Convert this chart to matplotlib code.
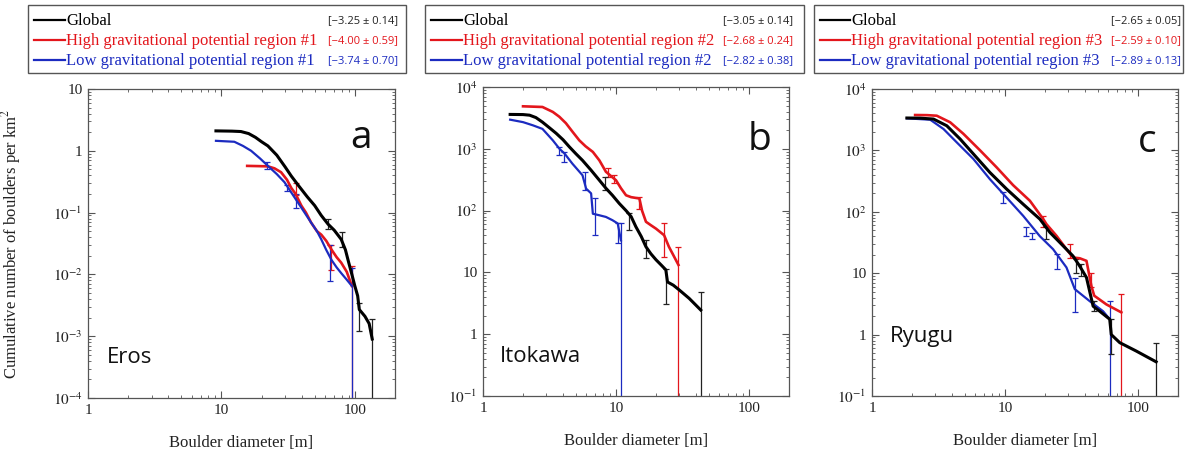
import matplotlib
matplotlib.use('Agg')
import matplotlib.pyplot as plt
import numpy as np
from matplotlib.lines import Line2D
from matplotlib.patches import Rectangle
from matplotlib.ticker import NullFormatter

plt.rcParams['mathtext.fontset'] = 'stix'
plt.rcParams['font.family'] = 'Liberation Serif'

BLACK = '#000000'
RED = '#e3161c'
BLUE = '#1c2bc0'

# ---- panel a : Eros ----
a_glob_x = [9.1, 12, 14, 16, 18, 20, 22.3, 26, 30, 33.4, 38, 44, 50, 56, 63, 70, 79, 85, 89, 95, 100, 105, 108, 119, 128, 135]
a_glob_y = [2.1, 2.08, 2.05, 1.9, 1.65, 1.4, 1.2, 0.85, 0.55, 0.39, 0.27, 0.18, 0.13, 0.09, 0.065, 0.052, 0.037, 0.025,
            0.017, 0.01, 0.0065, 0.0045, 0.0027, 0.0021, 0.0016, 0.0009]
a_high_x = [15.6, 19, 22.3, 25, 28, 31, 33.4, 36, 39.7, 43, 47, 52, 56, 61, 67, 73, 79, 87, 95]
a_high_y = [0.57, 0.565, 0.56, 0.52, 0.45, 0.34, 0.25, 0.2, 0.13, 0.1, 0.069, 0.05, 0.044, 0.035, 0.025, 0.019, 0.0155,
            0.011, 0.0065]
a_low_x = [9.1, 11, 12.5, 14.5, 16.7, 19.5, 22.3, 26, 29.7, 33, 37.5, 42, 47, 52, 56, 61, 67, 73, 79, 87, 95]
a_low_y = [1.45, 1.42, 1.4, 1.2, 1.0, 0.75, 0.57, 0.42, 0.31, 0.22, 0.145, 0.1, 0.069, 0.05, 0.037, 0.025, 0.017, 0.013,
           0.0105, 0.0082, 0.0065]
a_glob_ex = [63, 80, 108, 135]
a_glob_elo = [0.055, 0.028, 0.0012, 1e-5]
a_glob_ehi = [0.08, 0.048, 0.0035, 0.0019]
a_high_ex = [36, 66, 95]
a_high_elo = [0.19, 0.012, 1e-5]
a_high_ehi = [0.3, 0.03, 0.0135]
a_low_ex = [22, 31, 36, 65, 95]
a_low_elo = [0.5, 0.22, 0.12, 0.0078, 1e-5]
a_low_ehi = [0.65, 0.28, 0.2, 0.03, 0.0125]

# ---- panel b : Itokawa ----
b_glob_x = [1.6, 2.0, 2.24, 2.5, 2.8, 3.15, 3.55, 4.0, 4.47, 5.0, 5.6, 6.5, 7.5, 8.4, 9.4, 10.6, 11.9, 13, 14.1, 15.5,
            16.8, 18.3, 20, 22, 23.7, 24.4, 27, 29.9, 35.5, 43.4]
b_glob_y = [3600, 3580, 3500, 3200, 2700, 2200, 1780, 1400, 1070, 830, 650, 450, 310, 230, 177, 130, 100, 80, 55, 38,
            26, 20, 16, 13, 11, 7, 6.2, 5.2, 3.8, 2.46]
b_high_x = [2.0, 2.8, 3.35, 3.75, 4.2, 4.7, 5.3, 5.9, 6.7, 7.5, 8.4, 9.2, 10, 10.9, 11.9, 13, 14.2, 15, 15.7, 16.8,
            18.3, 20, 23, 25, 27, 29.5]
b_high_y = [4870, 4750, 3950, 3300, 2600, 1900, 1370, 1100, 890, 650, 425, 360, 310, 230, 177, 165, 160, 157, 100, 66,
            58, 51, 40, 26, 19, 13.2]
b_low_x = [1.6, 2.0, 2.37, 2.8, 3.35, 3.76, 4.1, 4.7, 5.6, 5.96, 6.5, 6.7, 7.5, 8.4, 9.4, 10.3, 10.9]
b_low_y = [2960, 2700, 2400, 2100, 1370, 1000, 840, 575, 373, 227, 190, 89, 84, 79, 70, 62, 33]
b_glob_ex = [8.2, 12.6, 16.8, 23.7, 43.4]
b_glob_elo = [214, 48, 16.8, 3.1, 0.01]
b_glob_ehi = [350, 90, 33, 11.5, 4.9]
b_high_ex = [8.7, 9.7, 15, 23, 29.5]
b_high_elo = [350, 275, 108, 17.8, 0.01]
b_high_ehi = [480, 373, 166, 62, 26]
b_low_ex = [3.76, 4.1, 5.8, 6.9, 10.3, 10.9]
b_low_elo = [790, 615, 214, 40, 29.5, 0.01]
b_low_ehi = [1070, 890, 427, 157, 63, 63]

# ---- panel c : Ryugu ----
c_glob_x = [1.83, 2.3, 2.9, 3.65, 4.6, 6.1, 7.7, 10.3, 13.7, 18.3, 21.8, 25.9, 32.5, 36.5, 41, 46, 51.6, 61.3, 63,
            72.9, 97, 137]
c_glob_y = [3370, 3350, 3240, 2520, 1530, 770, 437, 234, 133, 76, 46, 31.5, 19, 13, 8.5, 2.9, 2.4, 1.78, 1.0, 0.74,
            0.54, 0.36]
c_high_x = [2.11, 2.6, 3.07, 3.87, 4.87, 6.5, 8.65, 11.5, 15.4, 19.4, 20.5, 24.4, 29, 32.5, 36.5, 41, 44.7, 46.9, 57.9,
            75]
c_high_y = [3770, 3750, 3670, 2870, 1860, 1000, 530, 272, 151, 76, 63, 40.6, 24.6, 18, 17.5, 15.9, 6.1, 4.3, 3.1, 2.3]
c_low_x = [1.83, 2.2, 2.74, 3.45, 4.34, 5.79, 7.7, 10.3, 13.7, 18.3, 23, 29, 33.5, 43.4, 54.7, 61.3]
c_low_y = [3320, 3250, 3160, 2230, 1350, 724, 340, 170, 86, 40, 24.6, 12.4, 5.5, 3.5, 2.4, 1.78]
c_glob_ex = [20.5, 34.4, 37.5, 46.9, 63, 137]
c_glob_elo = [35.5, 10.2, 9, 2.4, 0.48, 0.01]
c_glob_ehi = [56, 17, 14, 3.5, 1.78, 0.74]
c_high_ex = [19.4, 31, 44.7, 75]
c_high_elo = [56, 18, 5.9, 0.01]
c_high_ehi = [86, 29.5, 10.2, 4.6]
c_low_ex = [9.7, 14.5, 15.9, 24.5, 33.9, 61.3]
c_low_elo = [141, 40, 35.5, 11.6, 2.3, 0.01]
c_low_ehi = [207, 56, 46, 20.4, 8.5, 3.5]

slopes_a = ['[\u22123.25 \u00b1 0.14]', '[\u22124.00 \u00b1 0.59]', '[\u22123.74 \u00b1 0.70]']
slopes_b = ['[\u22123.05 \u00b1 0.14]', '[\u22122.68 \u00b1 0.24]', '[\u22122.82 \u00b1 0.38]']
slopes_c = ['[\u22122.65 \u00b1 0.05]', '[\u22122.59 \u00b1 0.10]', '[\u22122.89 \u00b1 0.13]']

W, H = 1192, 454
fig = plt.figure(figsize=(W / 100, H / 100), dpi=100)


def fx(px):
    return px / W


def fy(py):
    return 1 - py / H


def add_axes(left, right, top, bottom):
    return fig.add_axes([fx(left), fy(bottom), fx(right - left), (bottom - top) / H])


def errbars(ax, x, lo, hi, color):
    x = np.array(x)
    lo = np.array(lo)
    hi = np.array(hi)
    ax.errorbar(x, hi, yerr=[hi - lo, np.zeros_like(hi)], fmt='none', ecolor=color,
                elinewidth=0.9, capsize=2.5, capthick=0.9, zorder=2)


def style_axes(ax, ylim, yticks, ylabels):
    ax.set_xscale('log')
    ax.set_yscale('log')
    ax.set_xlim(1, 200)
    ax.set_ylim(*ylim)
    ax.set_xticks([1, 10, 100])
    ax.set_xticklabels(['1', '10', '100'])
    ax.set_yticks(yticks)
    ax.set_yticklabels(ylabels)
    ax.xaxis.set_minor_formatter(NullFormatter())
    ax.yaxis.set_minor_formatter(NullFormatter())
    ax.tick_params(which='both', direction='in', top=True, right=True, color='#555555',
                   labelsize=11, labelcolor='#222222')
    ax.tick_params(which='major', length=5, width=0.8, pad=4)
    ax.tick_params(which='minor', length=2.5, width=0.6)
    for s in ax.spines.values():
        s.set_color('#555555')
        s.set_linewidth(0.9)
    ax.set_xlabel('Boulder diameter [m]', fontsize=12, color='#222222')
    ax.xaxis.set_label_coords(0.5, -0.12)


def draw_panel(ax, gx, gy, hx, hy, lx, ly, gerr, herr, lerr):
    errbars(ax, *herr, RED)
    errbars(ax, *lerr, BLUE)
    errbars(ax, *gerr, '#222222')
    ax.plot(hx, hy, color=RED, lw=1.9, zorder=3)
    ax.plot(lx, ly, color=BLUE, lw=1.6, zorder=3)
    ax.plot(gx, gy, color=BLACK, lw=2.2, zorder=4)


ax_a = add_axes(88, 395, 89, 398)
ax_b = add_axes(483, 789, 87, 396)
ax_c = add_axes(872, 1178, 89, 396)

draw_panel(ax_a, a_glob_x, a_glob_y, a_high_x, a_high_y, a_low_x, a_low_y,
           (a_glob_ex, a_glob_elo, a_glob_ehi), (a_high_ex, a_high_elo, a_high_ehi),
           (a_low_ex, a_low_elo, a_low_ehi))
draw_panel(ax_b, b_glob_x, b_glob_y, b_high_x, b_high_y, b_low_x, b_low_y,
           (b_glob_ex, b_glob_elo, b_glob_ehi), (b_high_ex, b_high_elo, b_high_ehi),
           (b_low_ex, b_low_elo, b_low_ehi))
draw_panel(ax_c, c_glob_x, c_glob_y, c_high_x, c_high_y, c_low_x, c_low_y,
           (c_glob_ex, c_glob_elo, c_glob_ehi), (c_high_ex, c_high_elo, c_high_ehi),
           (c_low_ex, c_low_elo, c_low_ehi))

style_axes(ax_a, (1e-4, 10), [1e-4, 1e-3, 1e-2, 1e-1, 1, 10],
           ['$10^{-4}$', '$10^{-3}$', '$10^{-2}$', '$10^{-1}$', '1', '10'])
style_axes(ax_b, (0.1, 1e4), [0.1, 1, 10, 100, 1e3, 1e4],
           ['$10^{-1}$', '1', '10', '$10^{2}$', '$10^{3}$', '$10^{4}$'])
style_axes(ax_c, (0.1, 1e4), [0.1, 1, 10, 100, 1e3, 1e4],
           ['$10^{-1}$', '1', '10', '$10^{2}$', '$10^{3}$', '$10^{4}$'])

ax_a.set_ylabel('Cumulative number of boulders per km$^2$', fontsize=12, color='#222222')
ax_a.yaxis.set_label_coords(-0.212, 0.5)

for ax, letter, lx, ly, name, nx, ny in [(ax_a, 'a', 0.925, 0.81, 'Eros', 0.062, 0.113),
                                         (ax_b, 'b', 0.944, 0.796, 'Itokawa', 0.056, 0.11),
                                         (ax_c, 'c', 0.93, 0.795, 'Ryugu', 0.059, 0.176)]:
    ax.text(lx, ly, letter, transform=ax.transAxes, ha='right', va='baseline',
            fontsize=28, family='Open Sans', color='#111111')
    ax.text(nx, ny, name, transform=ax.transAxes, ha='left', va='baseline',
            fontsize=16, family='Open Sans', color='#111111')


def draw_legend(x0, x1, lx0, lx1, vx, region, slopes):
    fig.add_artist(Rectangle((fx(x0), fy(73)), fx(x1 - x0), (73 - 5) / H, transform=fig.transFigure,
                             fill=False, edgecolor='#555555', lw=1.0))
    labels = ['Global', 'High gravitational potential region #%d' % region,
              'Low gravitational potential region #%d' % region]
    colors = [BLACK, RED, BLUE]
    for i, (lab, col, sl) in enumerate(zip(labels, colors, slopes)):
        yy = 20 + 20 * i
        fig.add_artist(Line2D([fx(lx0), fx(lx1)], [fy(yy), fy(yy)], transform=fig.transFigure,
                              color=col, lw=1.6))
        fig.text(fx(lx1 + 1), fy(yy + 1), lab, color=col, fontsize=12, ha='left', va='center')
        fig.text(fx(vx), fy(yy + 1), sl, color=col if i else '#222222', fontsize=8,
                 family='Open Sans', ha='right', va='center')


draw_legend(28, 406, 34, 65, 398, 1, slopes_a)
draw_legend(425, 804, 431, 462, 793, 2, slopes_b)
draw_legend(814, 1183, 820, 850, 1181, 3, slopes_c)

fig.savefig('out.png', dpi=100)
